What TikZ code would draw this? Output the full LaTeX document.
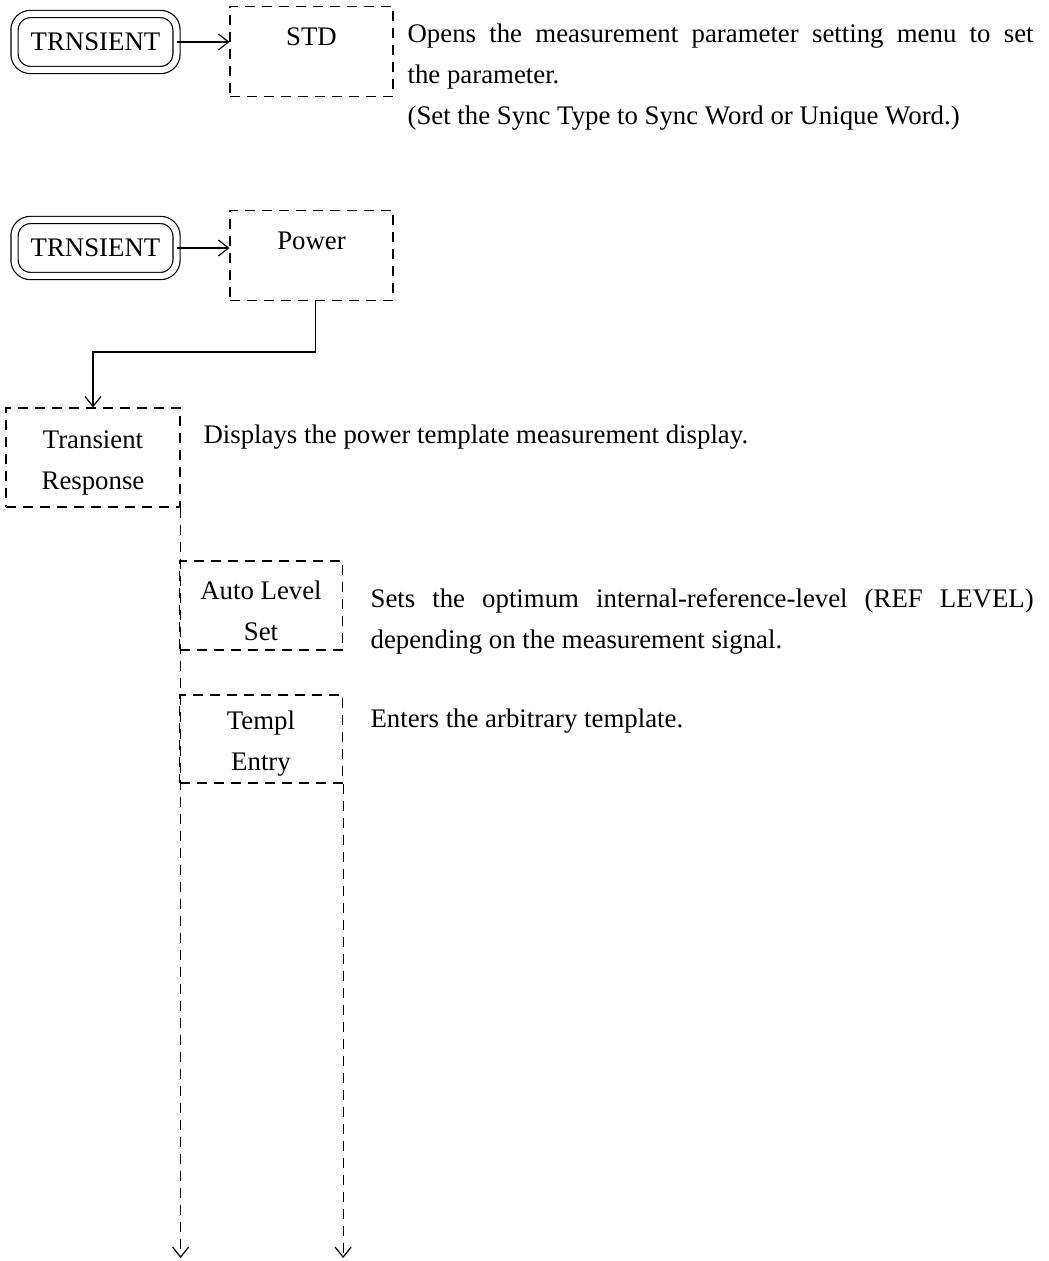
\documentclass[tikz,border=0pt]{standalone}
\usepackage{fontspec}
\setmainfont{Liberation Serif}
\usetikzlibrary{arrows.meta}

\begin{document}
\begin{tikzpicture}[x=0.5pt,y=-0.5pt,>={Straight Barb[length=5pt,width=8pt]},line width=0.6pt,every node/.style={font=\fontsize{13.4}{20.5}\selectfont},key/.style={draw,double,double distance=3pt,rounded corners=8pt,minimum width=81pt,minimum height=28pt,inner sep=0pt},menu/.style={draw,dash pattern=on 5pt off 3.5pt,align=center,minimum width=81.5pt,minimum height=45pt,inner sep=0pt},link/.style={->},flow/.style={->,dash pattern=on 5pt off 3.5pt},note/.style={anchor=base west,inner sep=0pt,align=justify}]
\useasboundingbox (0,0) rectangle (1048,1261);
\node[key] (k1) at (95.5,42) {TRNSIENT}; \node[menu] (std) at (311.5,51.5) {\strut STD\\\mbox{}};
\draw[link] (k1.east) -- (k1.east -| std.west);
\node[note,text width=313pt] (n1) at (407,43) {Opens the measurement parameter setting menu to set\linebreak the parameter.\\(Set the Sync Type to Sync Word or Unique Word.)};
\node[key] (k2) at (95.5,248) {TRNSIENT}; \node[menu] (power) at (311.5,255.5) {\strut Power\\\mbox{}};
\draw[link] (k2.east) -- (k2.east -| power.west);
\node[menu,minimum width=87pt,minimum height=49.5pt] (trans) at (93,457.5) {\strut Transient\\Response};
\draw[link] ([xshift=2pt]power.south) -- ++(0,51) -| (trans.north);
\node[note] (n2) at (203,444) {Displays the power template measurement display.};
\node[menu,minimum height=44.5pt] (auto) at (261,605.5) {\strut Auto Level\\Set};
\node[note,text width=331.5pt] (n3) at (370,607) {Sets the optimum internal-reference-level (REF LEVEL)\linebreak depending on the measurement signal.};
\node[menu,minimum height=44pt] (templ) at (261,739) {\strut Templ\\Entry};
\node[note] (n4) at (370,727) {Enters the arbitrary template.};
\coordinate (bot) at (0,1258);
\draw[flow] (trans.south east) -- (trans.south east |- bot); \draw[flow] (templ.south east) -- (templ.south east |- bot);
\end{tikzpicture}
\end{document}
